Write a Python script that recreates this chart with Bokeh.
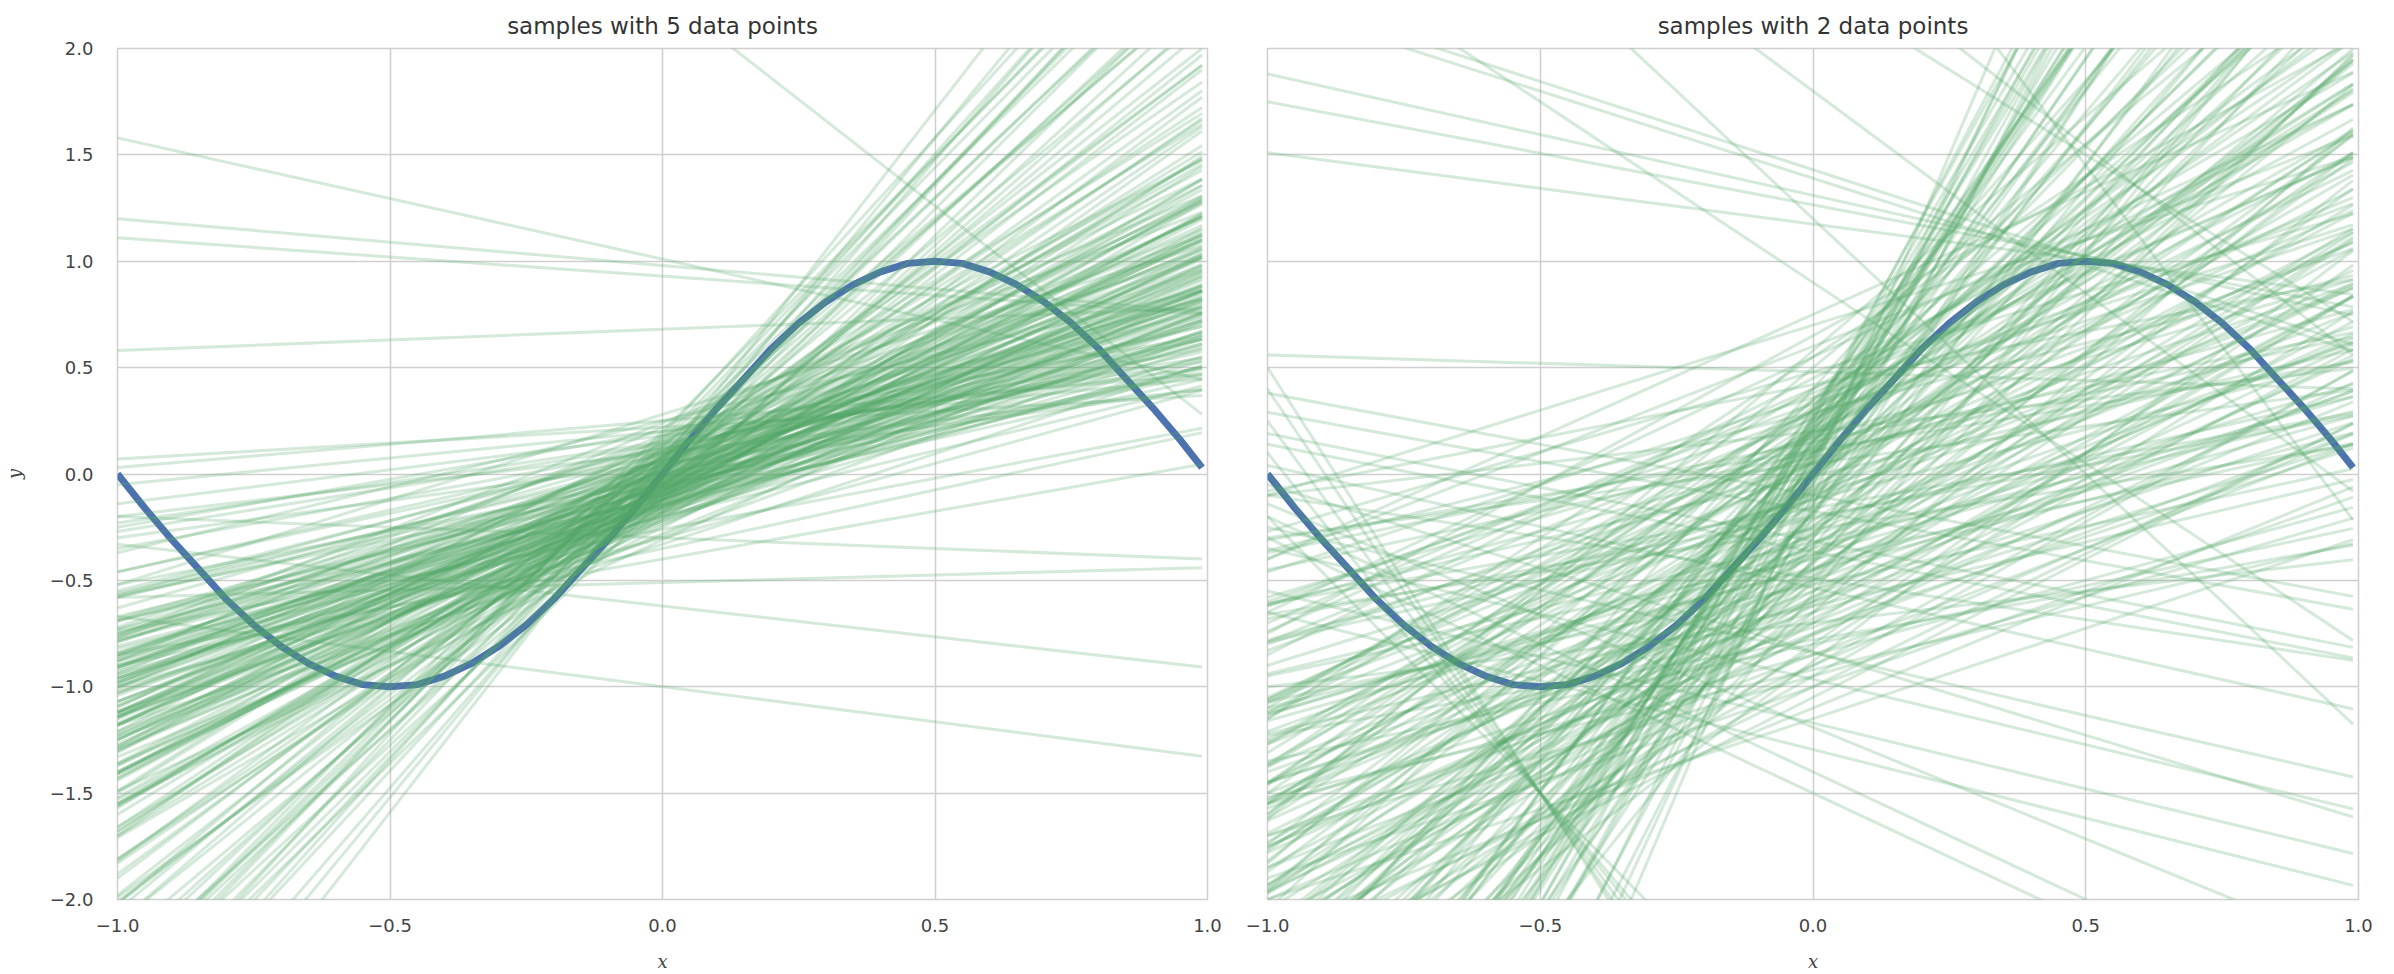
from bokeh.plotting import figure
from bokeh.layouts import row
from bokeh.models import Range1d, FixedTicker, ColumnDataSource
from bokeh.embed import file_html
from bokeh.resources import INLINE

# ---------------- data ----------------
titles = ["samples with 5 data points", "samples with 2 data points"]
x_label = "x"
y_label = "y"

x_ticks = [-1.0, -0.5, 0.0, 0.5, 1.0]
x_tick_labels = ["\u22121.0", "\u22120.5", "0.0", "0.5", "1.0"]
y_ticks = [-2.0, -1.5, -1.0, -0.5, 0.0, 0.5, 1.0, 1.5, 2.0]
y_tick_labels = ["\u22122.0", "\u22121.5", "\u22121.0", "\u22120.5", "0.0", "0.5", "1.0", "1.5", "2.0"]

# true function (blue curve)
curve_x = [-1.00, -0.95, -0.90, -0.85, -0.80, -0.75, -0.70, -0.65, -0.60, -0.55,
           -0.50, -0.45, -0.40, -0.35, -0.30, -0.25, -0.20, -0.15, -0.10, -0.05,
           0.00, 0.05, 0.10, 0.15, 0.20, 0.25, 0.30, 0.35, 0.40, 0.45,
           0.50, 0.55, 0.60, 0.65, 0.70, 0.75, 0.80, 0.85, 0.90, 0.95, 0.99]
curve_y = [0.00, -0.16, -0.31, -0.45, -0.59, -0.71, -0.81, -0.89, -0.95, -0.99,
           -1.00, -0.99, -0.95, -0.89, -0.81, -0.71, -0.59, -0.45, -0.31, -0.16,
           0.00, 0.16, 0.31, 0.45, 0.59, 0.71, 0.81, 0.89, 0.95, 0.99,
           1.00, 0.99, 0.95, 0.89, 0.81, 0.71, 0.59, 0.45, 0.31, 0.16, 0.03]

# x extent of every sampled line
sample_x_start = -1.0
sample_x_end = 0.99

# left panel: sampled lines (intercept, slope)
left_intercept = [
    1.01, 0.98, 0.93, 0.68, 0.25, -0.30, -0.51, -0.62, -1.00, 2.26,
    -0.05, -0.12, 0.03, -0.08, -0.15, 0.06, -0.02, -0.10, -0.18, 0.01,
    -0.07, -0.13, 0.09, -0.04, -0.21, -0.09, 0.02, -0.11, -0.06, 0.12,
    -0.16, -0.03, -0.14, 0.05, -0.08, -0.19, -0.01, -0.10, 0.07, -0.12,
    -0.05, -0.23, 0.00, -0.07, -0.15, 0.04, -0.09, -0.17, 0.10, -0.02,
    -0.13, -0.06, 0.08, -0.20, -0.04, -0.11, 0.03, -0.08, -0.16, 0.14,
    -0.03, -0.12, -0.07, 0.06, -0.18, -0.01, -0.10, 0.02, -0.14, -0.05,
    -0.22, 0.05, -0.09, -0.04, 0.11, -0.15, -0.06, -0.13, 0.00, -0.08,
    0.18, -0.19, -0.02, -0.11, 0.04, -0.07, -0.16, 0.07, -0.05, -0.12,
    -0.03, 0.09, -0.20, -0.09, 0.01, -0.14, -0.06, 0.13, -0.10, -0.02,
    -0.17, 0.03, -0.08, -0.24, 0.06, -0.04, -0.12, 0.02, -0.07, 0.15,
    -0.15, -0.01, -0.10, 0.08, -0.05, 0.20, 0.10, 0.22,
    -0.06, 0.04, -0.12, 0.08, -0.03, -0.15, 0.02, -0.09, 0.11, -0.05, 0.06, -0.18, 0.00, -0.02,
    0.05, -0.08, 0.10, -0.03, 0.02, 0.08, -0.10, 0.14, 0.00, -0.05, 0.12,
    0.04, -0.02, 0.07, 0.16, -0.06, 0.03, 0.09, 0.18, -0.12, 0.06, 0.20,
    0.25, -0.30, 0.18, -0.28, 0.22, -0.33, 0.15, -0.25, 0.28, -0.35,
    0.12, -0.20, 0.20, -0.26, 0.09, -0.31, 0.16, -0.22, 0.24, -0.29,
    0.05, -0.40, 0.11, -0.18, 0.02, -0.12, 0.07, -0.08, 0.14, -0.16,
    0.00, -0.04, 0.10, -0.10, 0.04, -0.14, 0.17, -0.21, 0.08, -0.06,
    0.02, -0.11, 0.13, -0.01, 0.06,
]
left_slope = [
    -0.57, -0.22, -0.18, 0.10, 0.22, -0.10, 0.07, -0.29, -0.33, -2.00,
    0.95, 1.02, 0.78, 1.21, 0.88, 0.64, 1.34, 0.97, 1.12, 0.85,
    0.71, 1.27, 0.55, 1.08, 0.93, 0.82, 1.16, 1.41, 0.61, 0.47,
    1.05, 0.90, 0.76, 1.23, 1.48, 1.18, 0.68, 1.31, 0.92, 0.84,
    1.13, 1.00, 0.58, 1.37, 0.66, 1.03, 0.89, 1.24, 0.73, 0.96,
    1.09, 0.80, 1.29, 0.74, 1.19, 0.62, 1.44, 0.87, 0.99, 0.41,
    1.06, 1.15, 0.69, 0.83, 1.35, 1.11, 0.77, 0.94, 1.26, 0.52,
    1.07, 1.17, 0.91, 1.39, 0.66, 0.81, 1.01, 1.53, 0.75, 1.22,
    0.32, 0.95, 0.86, 1.14, 0.60, 1.30, 0.72, 1.04, 0.98, 0.57,
    1.25, 0.88, 1.20, 1.46, 1.10, 0.93, 0.79, 0.70, 1.33, 0.50,
    0.85, 1.28, 1.05, 1.12, 0.97, 0.65, 1.43, 0.81, 1.18, 0.38,
    1.02, 0.90, 0.74, 1.36, 1.55, 0.25, 0.30, 0.15,
    1.62, 1.70, 1.58, 1.78, 1.85, 1.66, 1.92, 1.74, 1.60, 1.97, 1.88, 1.81, 1.68, 1.55,
    2.10, 2.25, 2.40, 2.55, 2.70, 2.85, 2.35, 2.60, 2.95, 2.15, 2.50,
    2.30, 2.75, 2.45, 2.65, 2.05, 3.10, 2.20, 2.80, 2.48, 3.30, 2.58,
    0.62, 0.70, 0.95, 1.05, 1.10, 0.85, 1.25, 1.30, 0.80, 0.55,
    0.58, 0.62, 0.45, 0.48, 1.40, 1.18, 0.88, 0.90, 1.00, 0.95,
    0.35, 0.45, 1.05, 0.78, 1.20, 0.92, 0.80, 1.10, 1.15, 1.40,
    0.98, 0.86, 0.96, 1.02, 0.72, 0.64, 1.32, 1.50, 1.58, 1.75,
    2.00, 1.90, 2.15, 2.38, 2.62,
]

# right panel: sampled lines (intercept, slope)
right_intercept = [
    0.05, -0.32, 0.18, -0.10, 0.28, -0.45, 0.02, -0.20, 0.35, -0.05,
    0.12, -0.38, 0.22, -0.15, 0.08, -0.28, 0.40, -0.02, 0.15, -0.50,
    0.25, -0.08, 0.10, -0.35, 0.30, -0.18, 0.00, 0.20, -0.42, 0.06,
    -0.25, 0.32, -0.12, 0.16, -0.55, 0.04, -0.30, 0.26, -0.06, 0.14,
    -0.40, 0.09, -0.22, 0.36, -0.03, 0.19, -0.48, 0.11, -0.14, 0.27,
    -0.33, 0.03, -0.09, 0.23, -0.44, 0.13, -0.19, 0.38, -0.01, 0.07,
    -0.27, 0.21, -0.37, 0.17, -0.11, 0.31, -0.52, 0.01, -0.16, 0.24,
    -0.41, 0.10, -0.04, 0.29, -0.24, 0.15, -0.58, 0.05, -0.13, 0.34,
    -0.29, 0.08, -0.07, 0.20, -0.46, 0.12, -0.21, 0.02, -0.34, 0.27,
    -0.10, 0.18, -0.39, 0.06, -0.17, 0.33, -0.60, -0.02, 0.22, -0.26,
    -0.65, -0.70, -0.75, -0.62, -0.80, 0.45, 0.50, 0.42, 0.55, 0.48,
    -0.55, -0.68, -0.85, -0.45, -0.90, -0.60, -0.35, -0.78, -0.50, -0.95,
    -0.40, -0.72, -0.30, -0.58, -0.20, -1.00, -0.48, -0.65, -0.15, -0.82,
    -0.38, -0.25, -0.70, -0.10, -0.52, -0.88, -0.05, -0.42, -0.62, 0.00,
    -0.33, -0.76, -0.18, -1.05, -0.56, 0.05, -0.45, -0.28, -0.92, 0.10,
    0.15, 0.30, 0.40, 0.05, 0.20, -0.12, 0.35, 0.10, 0.25, -0.08,
    0.60, 0.65, 0.70, 0.58, 0.75,
    0.22, 0.15, 0.28, 0.10, 0.18, 0.30, 0.12, 0.25, 0.20, 0.08, 0.26, 0.16,
    -0.85, -0.95, -0.70, -1.10, -0.60, -0.80, -1.00, -0.75, -0.50, -0.90, -0.65, -1.15,
    0.40, 0.30, 0.55, 0.20,
    1.31, 1.265, 1.175, 0.48, 1.39, 1.43, -0.10, -0.175, -0.315, -0.365,
    -0.49, -0.535, -0.84, -0.965, -0.835, -1.17, -1.295, -1.19, -1.40, -1.50,
    -3.25, -3.00, -3.50, -3.10, -3.40, -2.80, 3.15, 2.54, 2.30, 1.80, 1.20, 0.90,
]
right_slope = [
    0.35, 0.62, 1.45, 2.05, 0.88, 1.10, 3.20, 0.48, 1.72, 2.60,
    0.95, 1.55, 3.80, 1.30, 0.70, 2.25, 2.90, 1.85, 0.52, 0.90,
    4.30, 1.18, 2.40, 0.78, 1.38, 3.05, 1.62, 0.30, 1.95, 3.55,
    1.02, 2.15, 0.66, 1.90, 1.40, 4.60, 2.70, 1.05, 1.48, 3.40,
    0.55, 2.30, 1.75, 0.82, 2.85, 1.25, 2.10, 0.42, 3.90, 1.58,
    1.22, 2.52, 0.98, 3.15, 0.72, 1.68, 2.45, 1.12, 0.60, 4.05,
    1.88, 2.65, 1.00, 0.75, 1.35, 3.60, 1.65, 1.95, 0.45, 2.20,
    2.40, 1.15, 3.35, 0.65, 1.52, 2.95, 1.20, 0.85, 2.15, 1.80,
    0.92, 3.75, 1.70, 1.32, 1.82, 2.55, 0.58, 1.08, 2.95, 4.40,
    0.80, 2.00, 1.30, 1.42, 3.25, 0.95, 0.85, 2.35, 1.60, 0.40,
    1.50, 1.05, 1.35, 0.60, 1.80, 1.30, 2.10, 0.50, 1.70, 0.75,
    0.95, 1.25, 0.70, 1.60, 1.10, 2.00, 1.85, 0.45, 2.50, 1.45,
    3.00, 0.85, 3.50, 1.70, 4.00, 0.90, 1.15, 2.30, 5.00, 1.60,
    0.75, 2.10, 0.30, 4.80, 0.55, 1.95, 5.50, 2.75, 1.35, 6.00,
    1.40, 1.20, 2.80, 1.30, 3.20, 5.20, 0.65, 1.25, 0.60, 4.70,
    2.50, 1.90, 1.50, 1.30, 3.00, 1.00, 2.40, 0.55, 1.75, 2.05,
    1.00, 1.40, 0.80, 2.20, 1.15,
    4.20, 3.90, 4.60, 3.70, 4.40, 3.60, 4.10, 4.80, 3.80, 4.30, 3.50, 4.00,
    1.00, 0.75, 1.55, 1.05, 1.15, 0.55, 1.25, 0.95, 1.35, 1.40, 0.80, 0.85,
    1.10, 1.45, 1.20, 1.65,
    -0.57, -0.485, -0.335, -0.08, -0.82, -0.83, -0.48, -0.465, -0.505, -0.505,
    -0.39, -0.575, -0.59, -0.615, -0.785, -0.62, -0.645, -1.05, -1.20, -1.20,
    -3.50, -3.00, -4.00, -3.20, -3.80, -2.60, -3.40, -2.00, -1.60, -1.90, -2.40, -1.70,
]

# ---------------- styling ----------------
CURVE_COLOR = "#4C72B0"
SAMPLE_COLOR = "#55A868"
GRID_COLOR = "#cfcfcf"
TEXT_COLOR = "#444444"
FONT = "DejaVu Sans"


def sample_source(intercepts, slopes):
    xs, ys = [], []
    for b, m in zip(intercepts, slopes):
        xs.append([sample_x_start, sample_x_end])
        ys.append([b + m * sample_x_start, b + m * sample_x_end])
    return ColumnDataSource(dict(xs=xs, ys=ys))


def make_panel(title, intercepts, slopes, width, border_left, border_right, show_y):
    p = figure(width=width, height=974,
               x_range=Range1d(-1, 1), y_range=Range1d(-2, 2),
               output_backend="svg", toolbar_location=None,
               min_border_left=border_left, min_border_right=border_right,
               min_border_top=46, min_border_bottom=70)
    p.background_fill_color = "white"
    p.border_fill_color = "white"
    p.outline_line_color = GRID_COLOR
    p.outline_line_width = 1.5

    p.title.text = title
    p.title.align = "center"
    p.title.text_font = FONT
    p.title.text_font_size = "23px"
    p.title.text_font_style = "normal"
    p.title.text_color = "#333333"
    p.title.standoff = 20

    p.xaxis.ticker = FixedTicker(ticks=x_ticks)
    p.xaxis.major_label_overrides = dict(zip(x_ticks, x_tick_labels))
    p.yaxis.ticker = FixedTicker(ticks=y_ticks)
    p.yaxis.major_label_overrides = dict(zip(y_ticks, y_tick_labels))
    p.xgrid.ticker = FixedTicker(ticks=x_ticks)
    p.ygrid.ticker = FixedTicker(ticks=y_ticks)
    p.xgrid.grid_line_color = GRID_COLOR
    p.ygrid.grid_line_color = GRID_COLOR
    p.xgrid.grid_line_width = 1.5
    p.ygrid.grid_line_width = 1.5

    for ax in (p.xaxis, p.yaxis):
        ax.axis_line_color = None
        ax.major_tick_line_color = None
        ax.minor_tick_line_color = None
        ax.major_label_text_font = FONT
        ax.major_label_text_font_size = "18px"
        ax.major_label_text_color = TEXT_COLOR
        ax.axis_label_text_font = "DejaVu Serif"
        ax.axis_label_text_font_style = "italic"
        ax.axis_label_text_font_size = "18px"
        ax.axis_label_text_color = TEXT_COLOR

    p.xaxis.axis_label = x_label
    p.xaxis.major_label_standoff = 13
    p.xaxis.axis_label_standoff = 16
    p.yaxis.major_label_standoff = 18
    p.yaxis.axis_label_standoff = 22
    if show_y:
        p.yaxis.axis_label = y_label
    else:
        p.yaxis.visible = False

    p.line(curve_x, curve_y, line_color=CURVE_COLOR, line_width=7)
    p.multi_line("xs", "ys", source=sample_source(intercepts, slopes),
                 line_color=SAMPLE_COLOR, line_alpha=0.25, line_width=3)
    return p


p1 = make_panel(titles[0], left_intercept, left_slope, 1237, 117, 30, True)
p2 = make_panel(titles[1], right_intercept, right_slope, 1157, 30, 36, False)

layout = row(p1, p2)
open("out.html", "w").write(file_html(layout, INLINE))
